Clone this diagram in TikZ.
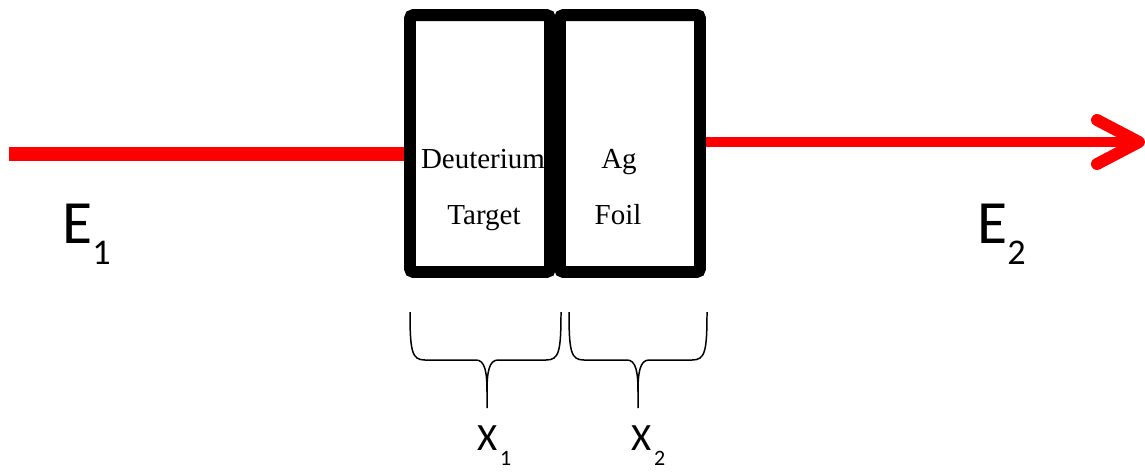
\documentclass[tikz,border=0pt]{standalone}
\usepackage{fontspec}
\setmainfont{Liberation Serif}
\newfontfamily\labelfont{Carlito}
\begin{document}
\begin{tikzpicture}[x=0.02cm, y=-0.02cm,
  slab/.style={draw=black, line width=6.8pt, rounded corners=2pt,
    minimum width=2.8cm, minimum height=5.14cm, inner sep=0pt, fill=none},
  slabtext/.style={anchor=base, inner sep=0pt, font=\fontsize{16.5}{16.5}\selectfont},
  beamin/.style={red, line width=8.5pt},
  beamout/.style={red, line width=5.7pt},
  head/.style={red, line width=6.8pt, line cap=round, line join=round},
  brace/.style={black, line width=0.85pt},
  energy/.style={anchor=base west, inner sep=0pt, font=\labelfont\fontsize{35}{35}\selectfont},
  thick/.style={anchor=base west, inner sep=0pt, font=\labelfont\fontsize{22}{22}\selectfont}
]
\useasboundingbox (0,0) rectangle (1145,471);

% the two slabs
\node[slab] (target) at (480,143.5) {};
\node[slab] (foil)   at (630,143.5) {};

\node[slabtext] (t1) at (483,168) {Deuterium};
\node[slabtext] (t2) at (484,224) {Target};
\node[slabtext] (f1) at (619,168) {Ag};
\node[slabtext] (f2) at (618,224) {Foil};

% incoming and outgoing beam
\coordinate (start) at (9,154);
\coordinate (tip) at (1139,142);
\coordinate (armup) at (1097,120);
\coordinate (armdown) at (1097,164);
\draw[beamin] (start) -- (start -| target.west);
\draw[beamout] (foil.east |- tip) -- ([xshift=-0.1cm]tip);
\draw[head] (armup) -- (tip) -- (armdown);

% braces under the slabs
\draw[brace] (410,312) .. controls (410,352) and (412,360) .. (425,360) -- (476,360)
  .. controls (485,360) and (487,372) .. (487,392) -- (487,408);
\draw[brace] (561,312) .. controls (561,352) and (559,360) .. (546,360) -- (498,360)
  .. controls (489,360) and (487,372) .. (487,392);
\draw[brace] (569,312) .. controls (569,352) and (571,360) .. (584,360) -- (627,360)
  .. controls (636,360) and (638,372) .. (638,392) -- (638,408);
\draw[brace] (707,312) .. controls (707,352) and (705,360) .. (692,360) -- (649,360)
  .. controls (640,360) and (638,372) .. (638,392);

% labels
\node[energy] (e1) at (62,243) {E\raisebox{-12.5pt}{\fontsize{20.6}{21}\selectfont 1}};
\node[energy] (e2) at (977,243) {E\raisebox{-12.5pt}{\fontsize{20.6}{21}\selectfont 2}};
\node[thick] (x1) at (477,450) {X\hspace{1.5pt}\raisebox{-8.6pt}{\fontsize{12.5}{13}\selectfont 1}};
\node[thick] (x2) at (631,450) {X\hspace{1.5pt}\raisebox{-8.6pt}{\fontsize{12.5}{13}\selectfont 2}};
\end{tikzpicture}
\end{document}
